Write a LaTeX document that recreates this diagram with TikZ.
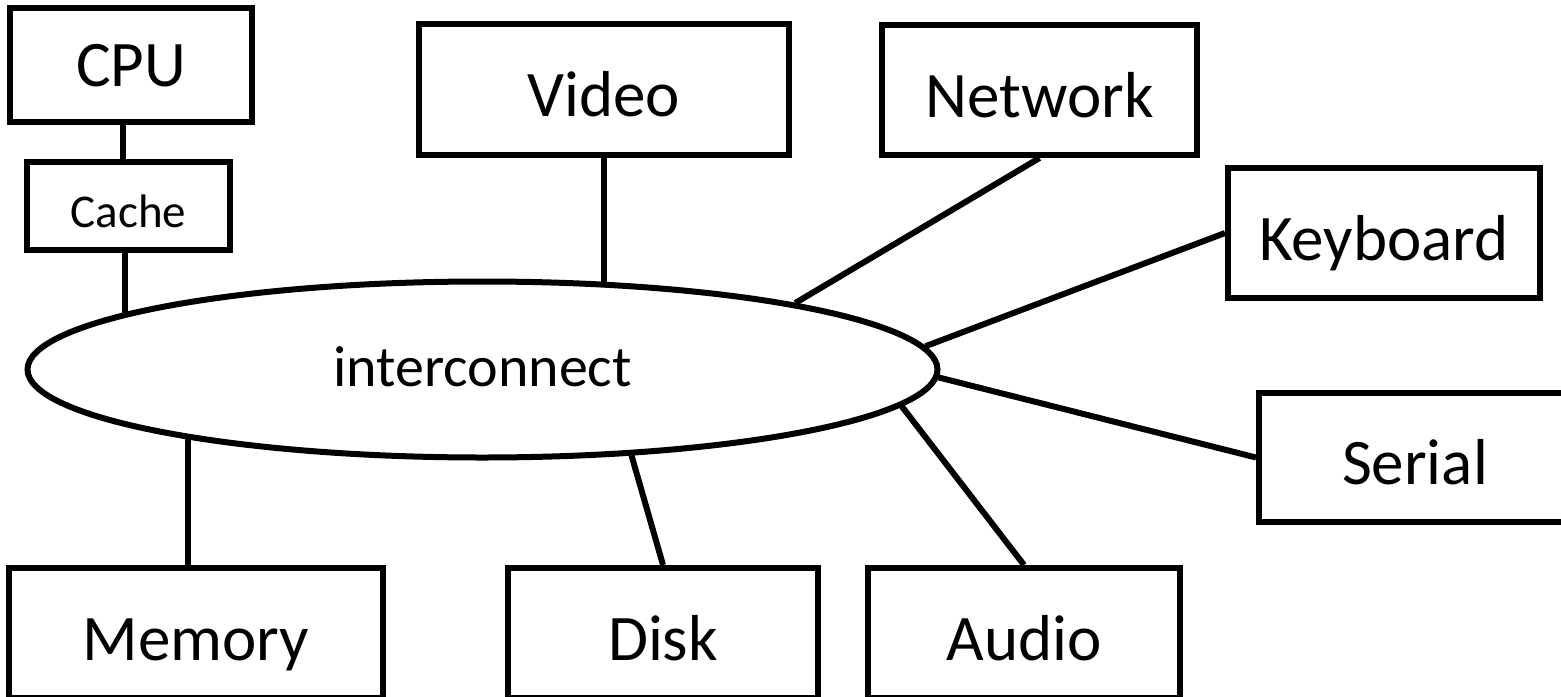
\documentclass[tikz,border=0pt]{standalone}
\usepackage{fontspec}
\setmainfont{Carlito}
\usepackage{tikz}
\usetikzlibrary{shapes.geometric}
\newcommand{\unitfont}{\fontsize{32.5}{39}\selectfont}
\newcommand{\busfont}{\fontsize{29}{35}\selectfont}
\newcommand{\cachefont}{\fontsize{23.5}{28}\selectfont}
\tikzset{
  unit/.style={draw, line width=3pt, inner sep=0pt, font=\unitfont,
    text height=27pt, text depth=0pt},
  bus/.style={draw, ellipse, fill=white, line width=3pt, inner sep=0pt,
    minimum width=455pt, minimum height=88pt, font=\busfont,
    text height=17pt, text depth=0pt},
  link/.style={line width=3pt}
}

\begin{document}
\begin{tikzpicture}[x=0.5pt, y=-0.5pt]
      \useasboundingbox (0,0) rectangle (1561,696);
      \node[bus] (ic) at (482.5,369.5) {interconnect};
      % boxes on top
      \node[unit, minimum width=121pt, minimum height=57pt, text height=21pt] (cpu) at (131,65) {CPU};
      \node[unit, minimum width=101.5pt, minimum height=44pt, font=\cachefont, text height=21pt] (cache) at (128.5,206) {Cache};
      \node[unit, minimum width=185pt, minimum height=65.5pt] (video) at (604,89) {Video};
      \node[unit, minimum width=157.5pt, minimum height=65pt] (network) at (1039.5,90) {Network};
      \node[unit, minimum width=156pt, minimum height=65pt] (keyboard) at (1384,233) {Keyboard};
      % boxes cut by the page edge
      \node[unit, minimum width=156pt, minimum height=64.5pt] (serial) at (1415,457.5) {Serial};
      \node[unit, minimum width=187pt, minimum height=65pt] (memory) at (196,633) {Memory};
      \node[unit, minimum width=155pt, minimum height=65pt] (disk) at (663,633) {Disk};
      \node[unit, minimum width=156pt, minimum height=65pt] (audio) at (1024,633) {Audio};
      % links
      \draw[link] ([xshift=-3pt]cache.north) -- ([xshift=-3pt]cache.north |- cpu.south);
      \draw[link] ([xshift=-2pt]cache.south) -- ([xshift=-2pt]cache.south |- ic.171.5);
      \draw[link] (video.south) -- (video.south |- ic.35.2);
      \draw[link] (network.south) -- (ic.12.4);
      \draw[link] (keyboard.west) -- (ic.3.7);
      \draw[link] (serial.west) -- (ic.-1.7);
      \draw[link] (audio.north) -- (ic.-5.4);
      \draw[link] (disk.north) -- (ic.-30.4);
      \draw[link] ([xshift=-4pt]memory.north) -- ([xshift=-4pt]memory.north |- ic.-167.2);
    \end{tikzpicture}
\end{document}
